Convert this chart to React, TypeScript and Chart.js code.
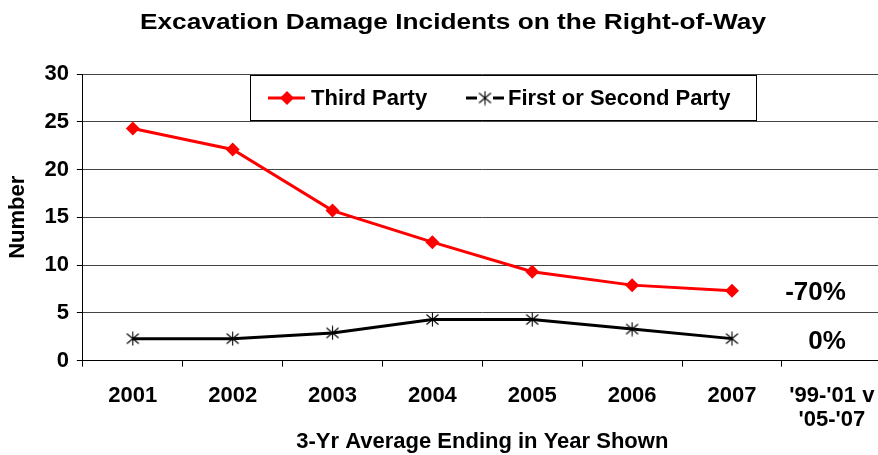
import React, { useEffect, useRef } from "react";
import { Chart, registerables } from "chart.js";

Chart.register(...registerables);

const categories: (string | string[])[] = ["2001", "2002", "2003", "2004", "2005", "2006", "2007", ["'99-'01 v", "'05-'07"]];
const thirdParty: (number | null)[] = [24.3, 22.1, 15.7, 12.4, 9.3, 7.9, 7.3, null];
const firstSecond: (number | null)[] = [2.3, 2.3, 2.9, 4.3, 4.3, 3.3, 2.3, null];
const seriesNames = ["Third Party", "First or Second Party"];
const changeLabels = ["-70%", "0%"];
const titleText = "Excavation Damage Incidents on the Right-of-Way";
const xTitle = "3-Yr Average Ending in Year Shown";
const yTitle = "Number";

const FONT = "'Liberation Sans', Arial, sans-serif";

function makeStar(): HTMLCanvasElement {
  const c = document.createElement("canvas");
  c.width = 15;
  c.height = 15;
  const g = c.getContext("2d")!;
  g.strokeStyle = "#000";
  g.lineWidth = 1.1;
  g.beginPath();
  g.moveTo(1.5, 2.5); g.lineTo(13.5, 12.5);
  g.moveTo(13.5, 2.5); g.lineTo(1.5, 12.5);
  g.moveTo(7.5, 0.5); g.lineTo(7.5, 14.5);
  g.stroke();
  return c;
}

const star = makeStar();

const overlayPlugin = {
  id: "overlay",
  beforeDraw(chart: any) {
    const ctx = chart.ctx as CanvasRenderingContext2D;
    ctx.save();
    ctx.fillStyle = "#fff";
    ctx.fillRect(0, 0, chart.width, chart.height);
    ctx.font = `bold 22px ${FONT}`;
    const w = ctx.measureText(titleText).width;
    const sx = 626 / w;
    ctx.translate(453, 23);
    ctx.scale(sx, 1);
    ctx.fillStyle = "#000";
    ctx.textAlign = "center";
    ctx.textBaseline = "middle";
    ctx.fillText(titleText, 0, 0);
    ctx.restore();
  },
  afterDatasetsDraw(chart: any) {
    const ctx = chart.ctx as CanvasRenderingContext2D;
    const xs = chart.scales.x;
    const ys = chart.scales.y;
    ctx.save();
    ctx.fillStyle = "#000";
    ctx.font = `bold 26px ${FONT}`;
    ctx.textAlign = "right";
    ctx.textBaseline = "middle";
    const lastIdx = categories.length - 1;
    const xr = xs.getPixelForValue(lastIdx) + 14;
    const ref1 = thirdParty[lastIdx - 1] as number;
    const ref2 = firstSecond[lastIdx - 1] as number;
    ctx.fillText(changeLabels[0], xr, ys.getPixelForValue(ref1) + 2);
    ctx.fillText(changeLabels[1], xr, ys.getPixelForValue(ref2) + 3);
    ctx.restore();

    ctx.save();
    const bx = 250.5, by = 75.5, bw = 506, bh = 45;
    ctx.fillStyle = "#fff";
    ctx.fillRect(bx, by, bw, bh);
    ctx.strokeStyle = "#000";
    ctx.lineWidth = 1;
    ctx.strokeRect(bx, by, bw, bh);
    const cy = by + bh / 2;
    ctx.strokeStyle = "#ff0000";
    ctx.lineWidth = 3;
    ctx.beginPath();
    ctx.moveTo(268, cy); ctx.lineTo(305, cy);
    ctx.stroke();
    ctx.fillStyle = "#ff0000";
    ctx.beginPath();
    ctx.moveTo(287, cy - 7); ctx.lineTo(294, cy); ctx.lineTo(287, cy + 7); ctx.lineTo(280, cy);
    ctx.closePath();
    ctx.fill();
    ctx.strokeStyle = "#000";
    ctx.lineWidth = 3;
    ctx.beginPath();
    ctx.moveTo(466, cy); ctx.lineTo(477, cy);
    ctx.moveTo(493, cy); ctx.lineTo(504, cy);
    ctx.stroke();
    ctx.drawImage(star, 485 - 7.5, cy - 7.5);
    ctx.fillStyle = "#000";
    ctx.font = `bold 22px ${FONT}`;
    ctx.textAlign = "left";
    ctx.textBaseline = "middle";
    ctx.fillText(seriesNames[0], 311, cy + 1);
    ctx.fillText(seriesNames[1], 508, cy + 1);
    ctx.restore();
  },
};

export default function App() {
  const ref = useRef<HTMLCanvasElement>(null);
  useEffect(() => {
    document.body.style.margin = "0";
    const chart = new Chart(ref.current!, {
      type: "line",
      data: {
        labels: categories as any,
        datasets: [
          {
            label: seriesNames[0],
            data: thirdParty,
            borderColor: "#ff0000",
            backgroundColor: "#ff0000",
            borderWidth: 3,
            pointStyle: "rectRot",
            pointRadius: 7,
            pointBorderWidth: 0,
            tension: 0,
          },
          {
            label: seriesNames[1],
            data: firstSecond,
            borderColor: "#000",
            backgroundColor: "#000",
            borderWidth: 3,
            pointStyle: star as any,
            pointRadius: 7,
            tension: 0,
          },
        ],
      },
      options: {
        animation: false,
        responsive: false,
        layout: { padding: { left: 5, right: 0, top: 74, bottom: 0 } },
        plugins: {
          legend: { display: false },
          tooltip: { enabled: false },
          title: { display: false },
        },
        scales: {
          x: {
            offset: true,
            grid: {
              offset: true,
              drawOnChartArea: false,
              drawTicks: true,
              tickLength: 6,
              color: "#000",
            },
            border: { color: "#000", width: 1 },
            ticks: {
              color: "#000",
              font: { family: FONT, size: 22, weight: "bold", lineHeight: "24px" },
              padding: 17,
              maxRotation: 0,
              autoSkip: false,
            },
            title: {
              display: true,
              text: xTitle,
              color: "#000",
              font: { family: FONT, size: 22, weight: "bold", lineHeight: 1.2 },
              padding: { top: -20, bottom: 0 },
            },
          },
          y: {
            min: 0,
            max: 30,
            ticks: {
              stepSize: 5,
              color: "#000",
              font: { family: FONT, size: 22, weight: "bold" },
              padding: 8,
            },
            grid: { color: "#444", tickLength: 6, tickColor: "#000" },
            border: { color: "#000", width: 1 },
            title: {
              display: true,
              text: yTitle,
              color: "#000",
              font: { family: FONT, size: 22, weight: "bold", lineHeight: 1.2 },
              padding: { top: 0, bottom: 5 },
            },
          },
        },
      },
      plugins: [overlayPlugin],
    });
    return () => chart.destroy();
  }, []);
  return (
    <div style={{ position: "absolute", left: 0, top: 0, width: 878, height: 455, overflow: "hidden" }}>
      <canvas ref={ref} width={892} height={455} />
    </div>
  );
}
